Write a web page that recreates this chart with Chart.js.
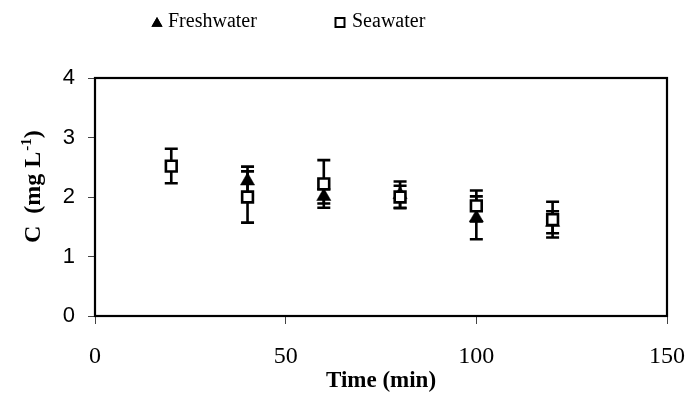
<!DOCTYPE html>
<html>
<head>
<meta charset="utf-8">
<script src="https://cdn.jsdelivr.net/npm/chart.js@4/dist/chart.umd.min.js"></script>
<style>
  html, body { margin: 0; padding: 0; background: #fff; }
  #wrap { width: 700px; height: 413px; }
</style>
</head>
<body>
<div id="wrap"><canvas id="c" width="700" height="413"></canvas></div>
<script>
// Sampling times (min)
const timeMin = [20, 40, 60, 80, 100, 120];

// Mean concentration (mg/L) and standard deviations
const freshwater = [null, 2.27, 2.01, 2.04, 1.65, 1.575];
const freshwaterSd = [null, 0.24, 0.12, 0.22, 0.36, 0.185];
const seawater = [2.52, 2.00, 2.22, 2.00, 1.85, 1.62];
const seawaterSd = [0.29, 0.43, 0.40, 0.19, 0.26, 0.30];

// Axis ticks
const xTicks = [0, 50, 100, 150];
const yTicks = [0, 1, 2, 3, 4];

const toPoints = (vals) => timeMin.map((t, i) => ({ x: t, y: vals[i] }));

const errorBars = {
  id: 'errorBars',
  beforeDatasetsDraw(chart) {
    const { ctx, scales: { x, y } } = chart;
    ctx.save();
    ctx.strokeStyle = '#000';
    ctx.lineWidth = 2.6;
    ctx.lineCap = 'butt';
    chart.data.datasets.forEach((ds) => {
      if (!ds.sd) return;
      ds.data.forEach((p, i) => {
        const e = ds.sd[i];
        if (p.y == null || e == null) return;
        const px = x.getPixelForValue(p.x);
        const yt = y.getPixelForValue(p.y + e);
        const yb = y.getPixelForValue(p.y - e);
        const hw = 6.5;
        ctx.beginPath();
        ctx.moveTo(px, yt); ctx.lineTo(px, yb);
        ctx.moveTo(px - hw, yt); ctx.lineTo(px + hw, yt);
        ctx.moveTo(px - hw, yb); ctx.lineTo(px + hw, yb);
        ctx.stroke();
      });
    });
    ctx.restore();
  }
};

const frame = {
  id: 'frame',
  afterDatasetsDraw(chart) {
    const { ctx, chartArea: a } = chart;
    ctx.save();
    ctx.strokeStyle = '#000';
    ctx.lineWidth = 2.2;
    ctx.strokeRect(a.left, a.top, a.right - a.left, a.bottom - a.top);
    ctx.restore();
  }
};

// Rotated y-axis title with a real superscript
const yTitle = {
  id: 'yTitle',
  afterDraw(chart) {
    const { ctx } = chart;
    ctx.save();
    ctx.translate(40, 243);
    ctx.rotate(-Math.PI / 2);
    ctx.fillStyle = '#000';
    ctx.textAlign = 'left';
    ctx.textBaseline = 'alphabetic';
    const main = 'bold 24px "Liberation Serif"';
    const sup = 'bold 15px "Liberation Serif"';
    let cx = 0;
    ctx.font = main;
    const part1 = 'C  (mg L';
    ctx.fillText(part1, cx, 0);
    cx += ctx.measureText(part1).width;
    ctx.font = sup;
    ctx.fillText('-1', cx + 1, -9);
    cx += ctx.measureText('-1').width + 1;
    ctx.font = main;
    ctx.fillText(')', cx, 0);
    ctx.restore();
  }
};

// Key above the plot: marker + series name
const keyLabels = {
  id: 'keyLabels',
  afterDraw(chart) {
    const { ctx } = chart;
    const items = [
      { ds: chart.data.datasets[1], mx: 157, tx: 168 },
      { ds: chart.data.datasets[0], mx: 340, tx: 352 }
    ];
    const cy = 22;
    ctx.save();
    items.forEach(({ ds, mx, tx }) => {
      ctx.strokeStyle = '#000';
      ctx.lineWidth = 2;
      if (ds.pointStyle === 'triangle') {
        Chart.helpers.drawPoint(ctx, { pointStyle: 'triangle', radius: 6.4, rotation: 0, borderWidth: 0 }, mx, cy + 1.5);
        ctx.fillStyle = '#000';
        ctx.fill();
      } else {
        ctx.fillStyle = '#fff';
        ctx.beginPath();
        ctx.rect(mx - 4.5, cy - 4, 9, 9);
        ctx.fill();
        ctx.stroke();
      }
      ctx.fillStyle = '#000';
      ctx.font = '20px "Liberation Serif"';
      ctx.textBaseline = 'middle';
      ctx.textAlign = 'left';
      ctx.fillText(ds.label, tx, cy);
    });
    ctx.restore();
  }
};

new Chart(document.getElementById('c'), {
  type: 'scatter',
  data: {
    datasets: [
      {
        label: 'Seawater',
        data: toPoints(seawater),
        sd: seawaterSd,
        order: 0,
        pointStyle: 'rect',
        pointRadius: 7.6,
        pointHoverRadius: 7.6,
        pointBorderWidth: 2.6,
        pointBorderColor: '#000',
        pointBackgroundColor: '#fff',
        showLine: false
      },
      {
        label: 'Freshwater',
        data: toPoints(freshwater),
        sd: freshwaterSd,
        order: 1,
        pointStyle: 'triangle',
        pointRadius: 8.2,
        pointHoverRadius: 8.2,
        pointBorderWidth: 0.5,
        pointBorderColor: '#000',
        pointBackgroundColor: '#000',
        showLine: false
      }
    ]
  },
  options: {
    responsive: false,
    animation: false,
    events: [],
    layout: { padding: { left: 0, right: 33, top: 78, bottom: 0 } },
    plugins: {
      legend: { display: false },
      tooltip: { enabled: false }
    },
    scales: {
      x: {
        type: 'linear',
        min: 0, max: 150,
        afterFit(s) { s.height = 97; s.paddingLeft = 0; s.paddingRight = 0; },
        afterBuildTicks(s) { s.ticks = xTicks.map(v => ({ value: v })); },
        ticks: {
          color: '#000',
          font: { family: 'Liberation Serif', size: 24 },
          padding: 18,
          maxRotation: 0
        },
        grid: { drawOnChartArea: false, drawTicks: true, tickLength: 8, color: '#444', lineWidth: 1 },
        border: { display: false },
        title: {
          display: true,
          text: 'Time (min)',
          color: '#000',
          font: { family: 'Liberation Serif', size: 23, weight: 'bold' },
          padding: { top: 0, bottom: 18 }
        }
      },
      y: {
        type: 'linear',
        min: 0, max: 4,
        afterFit(s) { s.width = 95; s.paddingTop = 0; s.paddingBottom = 0; },
        afterBuildTicks(s) { s.ticks = yTicks.map(v => ({ value: v })); },
        ticks: {
          color: '#000',
          font: { family: 'Liberation Sans', size: 22 },
          padding: 13
        },
        grid: { drawOnChartArea: false, drawTicks: true, tickLength: 7, color: '#444', lineWidth: 1 },
        border: { display: false },
        title: { display: false }
      }
    }
  },
  plugins: [errorBars, frame, yTitle, keyLabels]
});
</script>
</body>
</html>
